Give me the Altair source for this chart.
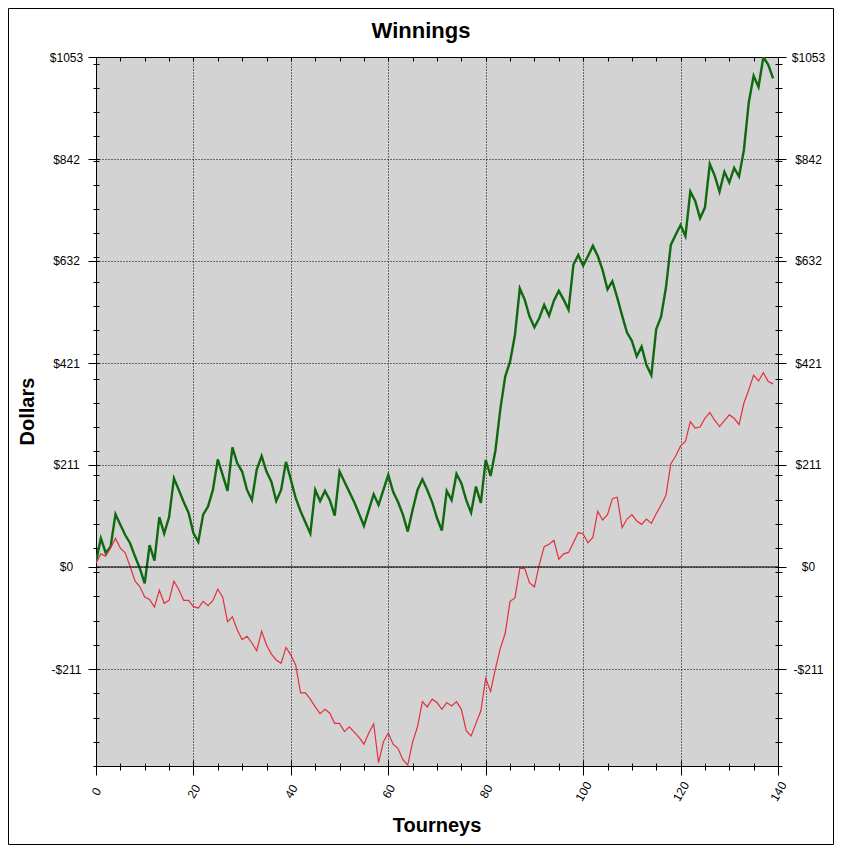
import altair as alt
import pandas as pd

# ---------------- data ----------------
tourneys = list(range(140))

green = [11, 59, 29, 42, 109, 87, 66, 49, 22, -3,
         -34, 45, 13, 103, 69, 103, 183, 159, 134, 112,
         70, 52, 108, 125, 159, 222, 190, 157, 247, 214,
         197, 159, 138, 201, 229, 197, 176, 136, 159, 217,
         180, 142, 115, 92, 69, 159, 136, 157, 138, 106,
         197, 176, 155, 134, 110, 85, 118, 150, 128, 159,
         190, 155, 134, 108, 73, 118, 159, 181, 159, 134,
         101, 75, 157, 138, 192, 173, 138, 112, 166, 132,
         221, 188, 241, 326, 393, 424, 479, 575, 552, 517,
         495, 514, 541, 519, 550, 570, 552, 531, 624, 644,
         622, 642, 663, 642, 613, 573, 590, 556, 519, 484,
         467, 435, 455, 417, 396, 491, 517, 577, 665, 686,
         706, 683, 775, 756, 720, 742, 832, 808, 775, 816,
         794, 824, 806, 861, 959, 1014, 991, 1053, 1037, 1009]

red = [8, 27, 22, 39, 59, 39, 29, 1, -29, -41,
       -62, -67, -83, -48, -75, -69, -29, -47, -69, -69,
       -82, -85, -71, -80, -69, -46, -62, -113, -103, -130,
       -150, -143, -157, -173, -133, -161, -180, -192, -199, -166,
       -182, -203, -260, -260, -273, -289, -303, -294, -302, -323,
       -323, -340, -330, -341, -352, -366, -343, -324, -404, -361,
       -343, -366, -375, -398, -409, -361, -330, -278, -289, -273,
       -280, -294, -280, -287, -278, -294, -338, -349, -323, -297,
       -230, -257, -210, -168, -137, -71, -64, -3, -3, -33,
       -41, 5, 42, 47, 55, 16, 27, 30, 50, 71,
       68, 50, 61, 115, 97, 108, 141, 144, 81, 99,
       108, 95, 88, 99, 90, 110, 128, 148, 213, 229,
       250, 259, 300, 287, 289, 307, 319, 303, 290, 302,
       314, 307, 294, 338, 366, 396, 384, 401, 383, 378]

x_major = [0, 20, 40, 60, 80, 100, 120, 140]
x_minor = [0, 5, 10, 15, 20, 25, 30, 35, 40, 45, 50, 55, 60, 65, 70,
           75, 80, 85, 90, 95, 100, 105, 110, 115, 120, 125, 130, 135, 140]
y_major = [-211, 0, 211, 421, 632, 842, 1053]
y_labels = ["-$211", "$0", "$211", "$421", "$632", "$842", "$1053"]
y_minor = [-411, -361, -311, -261, -211, -161, -111, -61, -11, 39, 89, 139,
           189, 239, 289, 339, 389, 439, 489, 539, 589, 639, 689, 739, 789,
           839, 889, 939, 989, 1039]
x_domain = [0, 140]
y_domain = [-411, 1053]

title_text = "Winnings"
x_title = "Tourneys"
y_title = "Dollars"

# ---------------- styling ----------------
FONT = "Liberation Sans"
GREEN = "#0f690f"
RED = "#e4303c"
W, H = 682, 709

df = pd.DataFrame({"t": tourneys, "green": green, "red": red})
xs = alt.Scale(domain=x_domain, nice=False, zero=False)
ys = alt.Scale(domain=y_domain, nice=False, zero=False)

label_expr = " : ".join(f"datum.value == {v} ? '{l}'" for v, l in zip(y_major, y_labels)) + " : ''"

lab_style = dict(labelFont=FONT, labelFontSize=12, labelColor="black",
                 labelFlush=False, labelOverlap=False, labelBound=False)
tick_style = dict(tickColor="black", tickWidth=1, domain=False, title=None)
grid_style = dict(grid=True, gridColor="black", gridDash=[1, 2], gridOpacity=1, gridWidth=1)

base = alt.Chart(df)

green_line = base.mark_line(color=GREEN, strokeWidth=2.4, clip=True).encode(
    x=alt.X("t:Q", scale=xs, axis=alt.Axis(
        orient="bottom", values=x_major, offset=-6, tickSize=15,
        labelAngle=300, labelAlign="center", labelBaseline="middle", labelPadding=16,
        **grid_style, **tick_style, **lab_style)),
    y=alt.Y("green:Q", scale=ys, axis=alt.Axis(
        orient="left", values=y_major, offset=-3, tickSize=11,
        labelAlign="center", labelBaseline="middle", labelPadding=22,
        labelExpr=label_expr, **grid_style, **tick_style, **lab_style)),
)

red_line = base.mark_line(color=RED, strokeWidth=1.2, clip=True).encode(
    x=alt.X("t:Q", scale=xs, axis=alt.Axis(
        orient="bottom", values=x_minor, offset=-3, tickSize=7,
        labels=False, grid=False, **tick_style)),
    y=alt.Y("red:Q", scale=ys, axis=alt.Axis(
        orient="left", values=y_minor, offset=-3, tickSize=6,
        labels=False, grid=False, **tick_style)),
)

hidden1 = base.mark_line(strokeOpacity=0).encode(
    x=alt.X("t:Q", scale=xs, axis=alt.Axis(
        orient="top", values=x_minor, offset=-4, tickSize=4,
        labels=False, grid=False, **tick_style)),
    y=alt.Y("green:Q", scale=ys, axis=alt.Axis(
        orient="right", values=y_major, offset=-3, tickSize=11,
        labelAlign="center", labelBaseline="middle", labelPadding=22,
        labelExpr=label_expr, grid=False, **tick_style, **lab_style)),
)

hidden2 = base.mark_line(strokeOpacity=0).encode(
    x=alt.X("t:Q", scale=xs, axis=None),
    y=alt.Y("green:Q", scale=ys, axis=alt.Axis(
        orient="right", values=y_minor, offset=-3, tickSize=7,
        labels=False, grid=False, **tick_style)),
)

zero_rule = alt.Chart(pd.DataFrame({"z": [0]})).mark_rule(color="black", strokeWidth=1).encode(
    y=alt.Y("z:Q", scale=ys, axis=None)
)

title_mark = alt.Chart(pd.DataFrame({"s": [title_text]})).mark_text(
    font=FONT, fontSize=22, fontWeight="bold", color="black",
    align="center", baseline="alphabetic"
).encode(text="s:N", x=alt.value(325), y=alt.value(-19))

xtitle_mark = alt.Chart(pd.DataFrame({"s": [x_title]})).mark_text(
    font=FONT, fontSize=20, fontWeight="bold", color="black",
    align="center", baseline="alphabetic"
).encode(text="s:N", x=alt.value(W / 2), y=alt.value(775))

ytitle_mark = alt.Chart(pd.DataFrame({"s": [y_title]})).mark_text(
    font=FONT, fontSize=20, fontWeight="bold", color="black",
    align="center", baseline="alphabetic", angle=270
).encode(text="s:N", x=alt.value(-62), y=alt.value(H / 2))

border = alt.Chart(pd.DataFrame({"b": [0]})).mark_rect(
    fill=None, stroke="black", strokeWidth=1
).encode(x=alt.value(-87.5), x2=alt.value(W + 55.5), y=alt.value(-48.5), y2=alt.value(H + 78.5))

chart = alt.layer(
    green_line, red_line, hidden1, hidden2, zero_rule,
    title_mark, xtitle_mark, ytitle_mark, border
).resolve_axis(
    x="independent", y="independent"
).properties(
    width=W, height=H,
    padding={"left": 88, "top": 49, "right": 56, "bottom": 79},
    autosize="none",
    background="white",
).configure_view(
    fill="#d3d3d3", stroke="black", strokeWidth=1
)

chart.save("out.html", embed_options={"renderer": "svg", "actions": False})
